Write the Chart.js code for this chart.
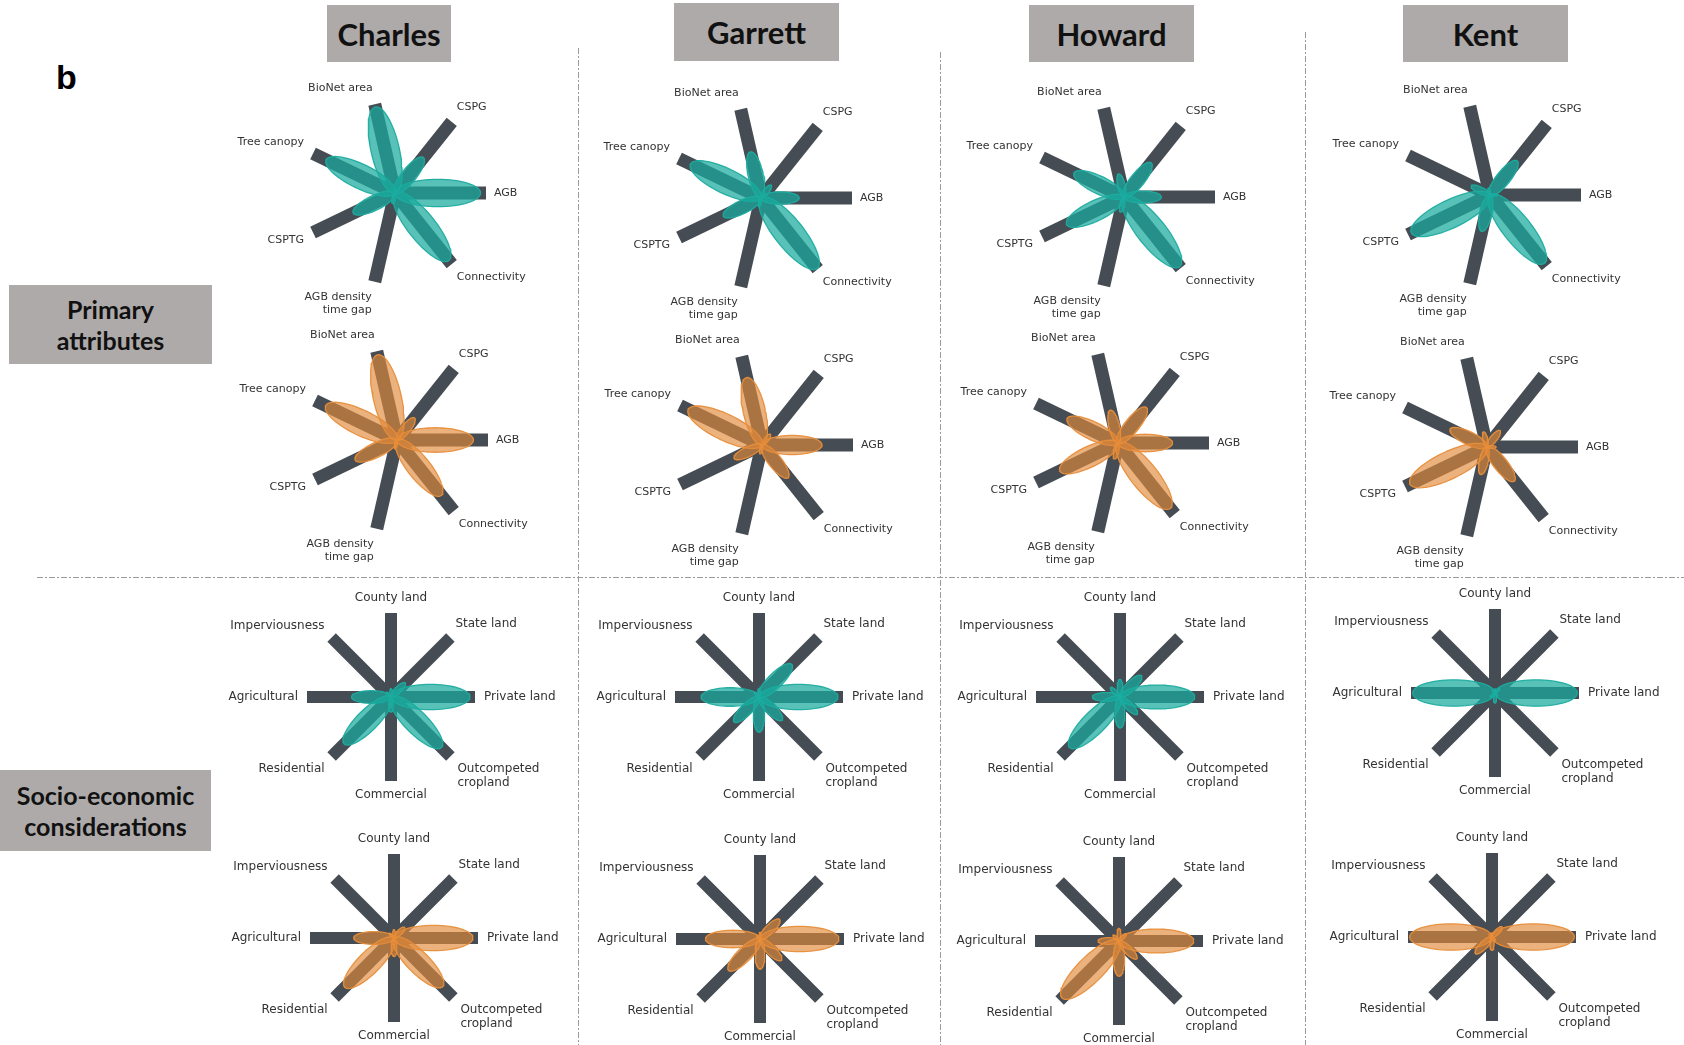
<!DOCTYPE html>
<html lang="en">
<head>
<meta charset="UTF-8">
<title>Primary attributes and socio-economic considerations</title>
<script src="https://cdn.jsdelivr.net/npm/chart.js"></script>
<style>
  body { margin: 0; background: #fff; width: 1684px; height: 1045px; position: relative; overflow: hidden; font-family: Lato, "Open Sans", sans-serif; }
  .box { position: absolute; background: #aeaaaa; color: #111; font-weight: bold; display: flex; align-items: center; justify-content: center; text-align: center; }
  .head { font-size: 31px; }
  .rowlab { font-size: 25px; line-height: 31px; }
  .panel { position: absolute; left: 56px; top: 58px; font: bold 34px "Liberation Sans", Arial, sans-serif; color: #000; }
  .vline { position: absolute; width: 1px; bottom: 0;
    background: repeating-linear-gradient(to bottom, #9a9a9a 0 6px, transparent 6px 8px, #9a9a9a 8px 10px, transparent 10px 12px); }
  .hline { position: absolute; height: 1px;
    background: repeating-linear-gradient(to right, #9a9a9a 0 6px, transparent 6px 8px, #9a9a9a 8px 10px, transparent 10px 12px); }
  canvas { position: absolute; }
</style>
</head>
<body>
<div class="panel">b</div>

<div class="box head" style="left:327px;top:5px;width:124px;height:57px;">Charles</div>
<div class="box head" style="left:674px;top:3px;width:165px;height:58px;">Garrett</div>
<div class="box head" style="left:1029px;top:5px;width:165px;height:57px;">Howard</div>
<div class="box head" style="left:1403px;top:5px;width:165px;height:57px;">Kent</div>

<div class="box rowlab" style="left:9px;top:285px;width:203px;height:79px;">Primary<br>attributes</div>
<div class="box rowlab" style="left:0px;top:770px;width:211px;height:81px;">Socio-economic<br>considerations</div>

<div class="vline" style="left:578px;top:48px;"></div>
<div class="vline" style="left:940px;top:52px;"></div>
<div class="vline" style="left:1305px;top:32px;"></div>
<div class="hline" style="left:37px;top:577px;width:1647px;"></div>

<script>
// ---- data ----
const districts = ["Charles", "Garrett", "Howard", "Kent"];

const primaryCategories = ["BioNet area", "CSPG", "AGB", "Connectivity", ["AGB density", "time gap"], "CSPTG", "Tree canopy"];
const socioCategories = ["County land", "State land", "Private land", ["Outcompeted", "cropland"], "Commercial", "Residential", "Agricultural", "Imperviousness"];

// petal lengths, fraction of spoke length (teal = upper glyph, orange = lower glyph)
const charlesPrimaryTeal   = [0.97, 0.50, 0.94, 0.95, 0.12, 0.51, 0.84];
const charlesPrimaryOrange = [0.96, 0.31, 0.84, 0.78, 0.10, 0.51, 0.87];
const garrettPrimaryTeal   = [0.52, 0.18, 0.42, 0.99, 0.10, 0.46, 0.86];
const garrettPrimaryOrange = [0.76, 0.15, 0.66, 0.46, 0.10, 0.34, 0.90];
const howardPrimaryTeal    = [0.26, 0.48, 0.41, 0.98, 0.17, 0.70, 0.61];
const howardPrimaryOrange  = [0.37, 0.50, 0.60, 0.92, 0.18, 0.71, 0.62];
const kentPrimaryTeal      = [0.08, 0.48, 0.08, 0.96, 0.41, 0.96, 0.23];
const kentPrimaryOrange    = [0.17, 0.23, 0.10, 0.48, 0.31, 0.94, 0.45];

const charlesSocioTeal   = [0.10, 0.24, 0.94, 0.85, 0.18, 0.79, 0.47, 0.08];
const charlesSocioOrange = [0.10, 0.18, 0.94, 0.82, 0.22, 0.83, 0.48, 0.08];
const garrettSocioTeal   = [0.10, 0.55, 0.94, 0.39, 0.42, 0.42, 0.69, 0.08];
const garrettSocioOrange = [0.08, 0.33, 0.94, 0.36, 0.36, 0.53, 0.65, 0.06];
const howardSocioTeal    = [0.21, 0.36, 0.89, 0.29, 0.37, 0.85, 0.33, 0.16];
const howardSocioOrange  = [0.15, 0.12, 0.89, 0.30, 0.42, 0.96, 0.25, 0.10];
const kentSocioTeal      = [0.05, 0.08, 0.98, 0.05, 0.12, 0.08, 0.98, 0.05];
const kentSocioOrange    = [0.05, 0.17, 0.98, 0.06, 0.16, 0.28, 0.98, 0.05];

// ---- styles / layout ----
const teal = { fill: "rgba(24,170,158,0.72)", stroke: "rgba(30,172,160,0.95)" };
const orange = { fill: "rgba(225,136,57,0.65)", stroke: "rgba(232,142,58,0.95)" };

const primaryStyle = {
  w: 340, h: 260, spokeLen: 91, spokeWidth: 13, rot: 90 - 2 * 360 / 7,
  font: "11px 'DejaVu Sans'", lineH: 13,
  labelPos: [["right", -2, -16], ["left", 5, -15], ["left", 8, 0], ["left", 5, 13],
             ["right", -3, 15], ["right", -9, 8], ["right", -9, -11]]
};
const socioStyle = {
  w: 350, h: 240, spokeLen: 84, spokeWidth: 12, rot: 0,
  font: "12px 'DejaVu Sans'", lineH: 14.5,
  labelPos: [["center", 0, -15], ["left", 5, -14], ["left", 9, 0], ["left", 7, 12],
             ["center", 0, 14], ["right", -7, 12], ["right", -9, 0], ["right", -7, -12]]
};

const glyphs = [
  { c: [395, 193], style: primaryStyle, cats: primaryCategories, values: charlesPrimaryTeal, col: teal },
  { c: [397, 440], style: primaryStyle, cats: primaryCategories, values: charlesPrimaryOrange, col: orange },
  { c: [761, 198], style: primaryStyle, cats: primaryCategories, values: garrettPrimaryTeal, col: teal },
  { c: [762, 445], style: primaryStyle, cats: primaryCategories, values: garrettPrimaryOrange, col: orange },
  { c: [1124, 197], style: primaryStyle, cats: primaryCategories, values: howardPrimaryTeal, col: teal },
  { c: [1118, 443], style: primaryStyle, cats: primaryCategories, values: howardPrimaryOrange, col: orange },
  { c: [1490, 195], style: primaryStyle, cats: primaryCategories, values: kentPrimaryTeal, col: teal },
  { c: [1487, 447], style: primaryStyle, cats: primaryCategories, values: kentPrimaryOrange, col: orange },
  { c: [391, 697], style: socioStyle, cats: socioCategories, values: charlesSocioTeal, col: teal },
  { c: [394, 938], style: socioStyle, cats: socioCategories, values: charlesSocioOrange, col: orange },
  { c: [759, 697], style: socioStyle, cats: socioCategories, values: garrettSocioTeal, col: teal },
  { c: [760, 939], style: socioStyle, cats: socioCategories, values: garrettSocioOrange, col: orange },
  { c: [1120, 697], style: socioStyle, cats: socioCategories, values: howardSocioTeal, col: teal },
  { c: [1119, 941], style: socioStyle, cats: socioCategories, values: howardSocioOrange, col: orange },
  { c: [1495, 693], style: socioStyle, cats: socioCategories, values: kentSocioTeal, col: teal },
  { c: [1492, 937], style: socioStyle, cats: socioCategories, values: kentSocioOrange, col: orange }
];

// labels at the spoke ends
const spokeLabels = {
  id: "spokeLabels",
  afterDraw(chart, args, opts) {
    const { ctx, scales } = chart;
    const st = opts.style;
    ctx.save();
    ctx.font = st.font;
    ctx.fillStyle = "#333";
    ctx.textBaseline = "middle";
    opts.cats.forEach((cat, i) => {
      const a = (i * 360 / opts.cats.length + st.rot) * Math.PI / 180;
      const px = scales.x.getPixelForValue(Math.sin(a));
      const py = scales.y.getPixelForValue(Math.cos(a));
      const [align, dx, dy] = st.labelPos[i];
      ctx.textAlign = align;
      const lines = Array.isArray(cat) ? cat : [cat];
      lines.forEach((t, k) => ctx.fillText(t, px + dx, py + dy + k * st.lineH));
    });
    ctx.restore();
  }
};

function petalPoints(angle, len) {
  const a = len / 2, b = len * 0.16;
  const dx = Math.sin(angle), dy = Math.cos(angle);
  const pts = [];
  for (let k = 0; k <= 64; k++) {
    const t = k / 64 * 2 * Math.PI;
    const u = a - a * Math.cos(t), v = b * Math.sin(t);
    pts.push({ x: u * dx + v * dy, y: u * dy - v * dx });
  }
  return pts;
}

glyphs.forEach(g => {
  const st = g.style;
  const canvas = document.createElement("canvas");
  canvas.width = st.w;
  canvas.height = st.h;
  canvas.style.left = (g.c[0] - st.w / 2) + "px";
  canvas.style.top = (g.c[1] - st.h / 2) + "px";
  document.body.appendChild(canvas);

  const n = g.cats.length;
  const angle = i => (i * 360 / n + st.rot) * Math.PI / 180;
  const datasets = [];
  // spokes (drawn first, underneath)
  g.cats.forEach((c, i) => {
    datasets.push({
      data: [{ x: 0, y: 0 }, { x: Math.sin(angle(i)), y: Math.cos(angle(i)) }],
      showLine: true, borderColor: "#464c53", borderWidth: st.spokeWidth,
      borderCapStyle: "butt", pointRadius: 0, fill: false, order: 2
    });
  });
  // petals (on top)
  g.values.forEach((v, i) => {
    datasets.push({
      data: petalPoints(angle(i), v),
      showLine: true, fill: "shape", backgroundColor: g.col.fill,
      borderColor: g.col.stroke, borderWidth: 1.3, borderJoinStyle: "round",
      pointRadius: 0, tension: 0, order: 1
    });
  });

  const xr = st.w / 2 / st.spokeLen, yr = st.h / 2 / st.spokeLen;
  new Chart(canvas, {
    type: "scatter",
    data: { datasets },
    options: {
      responsive: false, animation: false, events: [], devicePixelRatio: 1,
      layout: { padding: 0 },
      scales: {
        x: { type: "linear", display: false, min: -xr, max: xr },
        y: { type: "linear", display: false, min: -yr, max: yr }
      },
      plugins: {
        legend: { display: false }, tooltip: { enabled: false },
        spokeLabels: { cats: g.cats, style: st }
      }
    },
    plugins: [spokeLabels]
  });
});
</script>
</body>
</html>
